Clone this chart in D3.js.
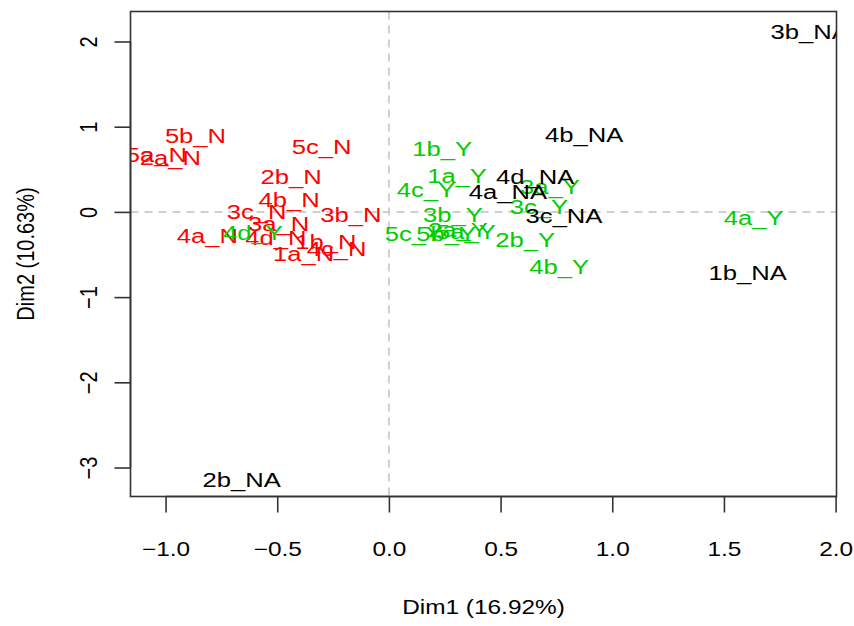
<!DOCTYPE html>
<html>
<head>
<meta charset="utf-8">
<script src="https://cdn.jsdelivr.net/npm/d3@7"></script>
<style>
  html, body { margin: 0; padding: 0; background: #fff; }
  text { font-family: "Liberation Sans", Arial, Helvetica, sans-serif; }
</style>
</head>
<body>
<svg id="chart" width="854" height="626"></svg>
<script>
// ---- data (MCA category coordinates) ----
const nLabels = ["1a_N","1b_N","2a_N","2b_N","3a_N","3b_N","3c_N","4a_N","4b_N","4c_N","4d_N","5a_N","5b_N","5c_N"];
const nDim1   = [-0.382,-0.282,-0.978,-0.438,-0.494,-0.170,-0.592,-0.813,-0.447,-0.234,-0.506,-1.041,-0.866,-0.301];
const nDim2   = [-0.482,-0.342, 0.638, 0.415,-0.130,-0.033, 0.005,-0.271, 0.146,-0.424,-0.295, 0.680, 0.903, 0.773];

const yLabels = ["1a_Y","1b_Y","2a_Y","2b_Y","3a_Y","3b_Y","3c_Y","4a_Y","4b_Y","4c_Y","4d_Y","5a_Y","5b_Y","5c_Y"];
const yDim1   = [0.305,0.238,0.309,0.610,0.721,0.287,0.672,1.633,0.762,0.166,-0.609,0.345,0.256,0.112];
const yDim2   = [0.433,0.750,-0.201,-0.318,0.304,-0.025,0.063,-0.066,-0.641,0.269,-0.242,-0.224,-0.248,-0.248];

const naLabels = ["1b_NA","2b_NA","3b_NA","3c_NA","4a_NA","4b_NA","4d_NA"];
const naDim1   = [1.606,-0.659,1.884,0.784,0.533,0.874,0.655];
const naDim2   = [-0.705,-3.135,2.123,-0.036,0.239,0.914,0.415];

const xTicks = [-1.0,-0.5,0.0,0.5,1.0,1.5,2.0];
const yTicks = [-3,-2,-1,0,1,2];
const xTitle = "Dim1 (16.92%)";
const yTitle = "Dim2 (10.63%)";

// ---- layout ----
const svg = d3.select("#chart");
const L = 130.5, R = 836.5, T = 11.5, B = 496.5;
const SX = 1.22;          // horizontal stretch of the original rendering
const FS = 21;            // label font size
const x = d3.scaleLinear().domain([-1.157, 2.004]).range([L, R]);
const y = d3.scaleLinear().domain([-3.340, 2.352]).range([B, T]);

svg.append("defs").append("clipPath").attr("id","plotclip")
  .append("rect").attr("x", L).attr("y", T).attr("width", R - L).attr("height", B - T);

// reference dashed lines
svg.append("line").attr("x1", x(0)).attr("x2", x(0)).attr("y1", T).attr("y2", B)
  .attr("stroke", "#cfcfcf").attr("stroke-width", 2).attr("stroke-dasharray", "8,6");
svg.append("line").attr("x1", L).attr("x2", R).attr("y1", y(0)).attr("y2", y(0))
  .attr("stroke", "#cfcfcf").attr("stroke-width", 2).attr("stroke-dasharray", "8,6");

// labels
const groups = [
  {labels: nLabels, d1: nDim1, d2: nDim2, color: "#ff0000"},
  {labels: yLabels, d1: yDim1, d2: yDim2, color: "#00cd00"},
  {labels: naLabels, d1: naDim1, d2: naDim2, color: "#000000"}
];
const lab = svg.append("g").attr("clip-path", "url(#plotclip)");
groups.forEach(g => {
  const rows = g.labels.map((t, i) => ({t, a: g.d1[i], b: g.d2[i]}));
  lab.selectAll(null).data(rows).enter().append("text")
    .attr("transform", d => `translate(${x(d.a)},${y(d.b)}) scale(${SX},1)`)
    .attr("text-anchor", "middle")
    .attr("dy", "0.36em")
    .attr("font-size", FS)
    .attr("fill", g.color)
    .text(d => d.t);
});

// box
svg.append("rect").attr("x", L).attr("y", T).attr("width", R - L).attr("height", B - T)
  .attr("fill", "none").attr("stroke", "#333").attr("stroke-width", 1.6);

// x axis
const gx = svg.append("g").attr("transform", `translate(0,${B})`)
  .call(d3.axisBottom(x).tickValues(xTicks).tickFormat(d3.format(".1f")).tickSize(16));
gx.select(".domain").remove();
gx.selectAll(".tick line").attr("stroke", "#333").attr("stroke-width", 1.6);
gx.selectAll(".tick text")
  .attr("y", null).attr("dy", "0.36em")
  .attr("transform", `translate(0,52) scale(${SX},1)`)
  .attr("font-size", 20).attr("fill", "#000")
  .attr("font-family", "Liberation Sans, Arial, sans-serif");
gx.append("line").attr("x1", x(xTicks[0])).attr("x2", x(xTicks[xTicks.length-1]))
  .attr("y1", 0).attr("y2", 0).attr("stroke", "#333").attr("stroke-width", 1.6);

// y axis
const gy = svg.append("g").attr("transform", `translate(${L},0)`)
  .call(d3.axisLeft(y).tickValues(yTicks).tickFormat(d3.format("d")).tickSize(16));
gy.select(".domain").remove();
gy.selectAll(".tick line").attr("stroke", "#333").attr("stroke-width", 1.6);
gy.selectAll(".tick text")
  .attr("x", null).attr("dy", "0.36em")
  .attr("text-anchor", "middle")
  .attr("transform", `translate(-42,0) scale(${SX},1) rotate(-90)`)
  .attr("font-size", 20).attr("fill", "#000")
  .attr("font-family", "Liberation Sans, Arial, sans-serif");
gy.append("line").attr("x1", 0).attr("x2", 0)
  .attr("y1", y(yTicks[0])).attr("y2", y(yTicks[yTicks.length-1]))
  .attr("stroke", "#333").attr("stroke-width", 1.6);

// axis titles
svg.append("text")
  .attr("transform", `translate(${(L + R) / 2},607) scale(${SX},1)`)
  .attr("text-anchor", "middle").attr("dy", "0.36em").attr("font-size", 20)
  .text(xTitle);
svg.append("text")
  .attr("transform", `translate(25,${(T + B) / 2}) scale(${SX},1) rotate(-90)`)
  .attr("text-anchor", "middle").attr("dy", "0.36em").attr("font-size", 20)
  .text(yTitle);
</script>
</body>
</html>
